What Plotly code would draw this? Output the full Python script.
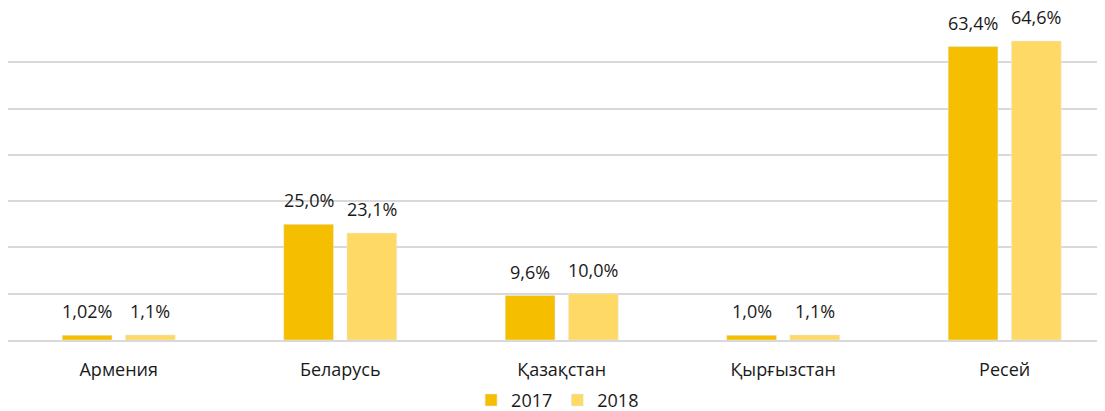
import plotly.graph_objects as go

categories = ["Армения", "Беларусь", "Қазақстан", "Қырғызстан", "Ресей"]
values_2017 = [1.02, 25.0, 9.6, 1.0, 63.4]
values_2018 = [1.1, 23.1, 10.0, 1.1, 64.6]
labels_2017 = ["1,02%", "25,0%", "9,6%", "1,0%", "63,4%"]
labels_2018 = ["1,1%", "23,1%", "10,0%", "1,1%", "64,6%"]

FONT = "Open Sans"
FS = 18
TXT = "#1a1a1a"
C17, C18 = "#F5BF00", "#FFD966"

fig = go.Figure()
fig.add_trace(go.Bar(name="2017", x=categories, y=values_2017, marker_color=C17))
fig.add_trace(go.Bar(name="2018", x=categories, y=values_2018, marker_color=C18))

# value labels placed above each bar (offset by half a group slot)
slot_px = 63.25
for vals, labs, sh in ((values_2017, labels_2017, -slot_px / 2), (values_2018, labels_2018, slot_px / 2)):
    for c, v, t in zip(categories, vals, labs):
        fig.add_annotation(x=c, y=v, text=t, showarrow=False, xshift=sh, yshift=10,
                           yanchor="bottom", xanchor="center",
                           font=dict(family=FONT, size=FS, color=TXT))

# page body has an 8px margin, so the figure is placed at (8, 8)
fig.update_layout(
    width=1097, height=403,
    margin=dict(l=0, r=0, t=8, b=71, autoexpand=False),
    paper_bgcolor="white", plot_bgcolor="white",
    barmode="group", bargap=0.429, bargroupgap=0.213,
    font=dict(family=FONT, size=FS, color=TXT),
    showlegend=True,
    legend=dict(orientation="h", x=0.501, xanchor="center", y=-0.186, yanchor="middle",
                font=dict(size=FS), itemwidth=30, traceorder="normal"),
)
fig.update_xaxes(range=[-0.5, 4.453], showline=True, linecolor="#d9d9d9", linewidth=2,
                 showgrid=False, ticks="", ticklabelstandoff=12, tickfont=dict(size=FS),
                 automargin=False)
fig.update_yaxes(range=[0, 70], dtick=10, showgrid=True, gridcolor="#d9d9d9", gridwidth=2,
                 showline=True, linecolor="#d9d9d9", linewidth=2, showticklabels=False,
                 zeroline=False, ticks="", automargin=False)
fig.write_html("out.html")
